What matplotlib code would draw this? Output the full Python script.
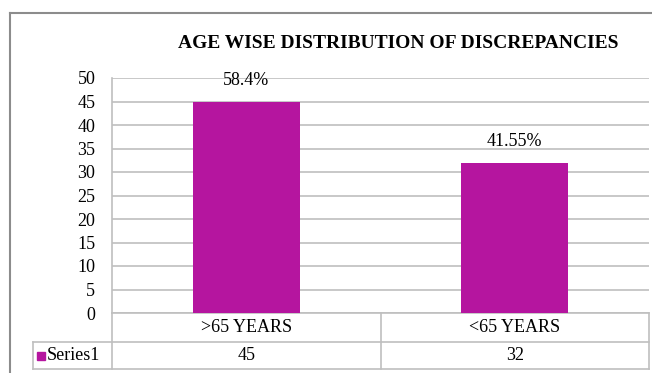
import numpy as np
import matplotlib.pyplot as plt
from matplotlib.lines import Line2D
from matplotlib.patches import Rectangle

plt.rcParams['font.family'] = 'Liberation Serif'

categories = ['>65 YEARS', '<65 YEARS']
values = [45, 32]
pct_labels = ['58.4%', '41.55%']
series_name = 'Series1'
bar_color = '#B5159F'
grid_color = '#BFBFBF'

W, H = 652, 373
fig = plt.figure(figsize=(W / 100, H / 100), dpi=100)
ax = fig.add_axes([112 / W, 1 - 313 / H, 537 / W, 235 / H])

x = np.arange(len(categories))
ax.bar(x, values, width=0.4, color=bar_color, zorder=3)
ax.set_xlim(-0.5, len(categories) - 0.5)
ax.set_ylim(0, 50)
ax.set_yticks(np.arange(0, 51, 5))
ax.set_xticks([])
ax.tick_params(axis='y', length=0, labelsize=13, pad=12)
ax.grid(axis='y', color=grid_color, linewidth=1.2, zorder=0)
for s in ['top', 'right', 'bottom']:
    ax.spines[s].set_visible(False)
ax.spines['left'].set_color(grid_color)
ax.spines['left'].set_linewidth(1.2)

for xi, v, lab in zip(x, values, pct_labels):
    ax.annotate(lab, (xi, v), xytext=(0, 9), textcoords='offset points',
                ha='center', va='bottom', fontsize=13)

# data table below the plot
tr = ax.transAxes
r1, r2 = -29 / 235, -56 / 235
left_cell = -79 / 537
n = len(categories)
lk = dict(color=grid_color, linewidth=1.2, transform=tr, clip_on=False)
ax.add_line(Line2D([0, 1], [0, 0], **lk))
ax.add_line(Line2D([left_cell, 1], [r1, r1], **lk))
ax.add_line(Line2D([left_cell, 1], [r2, r2], **lk))
ax.add_line(Line2D([left_cell, left_cell], [r1, r2], **lk))
for i in range(n + 1):
    ax.add_line(Line2D([i / n, i / n], [0, r2], **lk))
for i, (c, v) in enumerate(zip(categories, values)):
    xc = (i + 0.5) / n
    ax.text(xc, r1 / 2, c, transform=tr, ha='center', va='center', fontsize=13)
    ax.text(xc, (r1 + r2) / 2, str(v), transform=tr, ha='center', va='center', fontsize=13)
ax.add_patch(Rectangle((-75 / 537, (r1 + r2) / 2 - 4 / 235), 8 / 537, 8 / 235,
                       transform=tr, color=bar_color, clip_on=False))
ax.text(-65 / 537, (r1 + r2) / 2, series_name, transform=tr, ha='left', va='center',
        fontsize=13)

fig.text(398 / W, 1 - 43 / H, 'AGE WISE DISTRIBUTION OF DISCREPANCIES',
         ha='center', va='center', fontsize=14, fontweight='bold')

# chart frame
fig.add_artist(Line2D([10 / W, 10 / W], [0, 1 - 13 / H], color='#8C8C8C', linewidth=1.5,
                      transform=fig.transFigure))
fig.add_artist(Line2D([10 / W, 1], [1 - 13 / H, 1 - 13 / H], color='#8C8C8C', linewidth=1.5,
                      transform=fig.transFigure))

fig.savefig('out.png', dpi=100)
